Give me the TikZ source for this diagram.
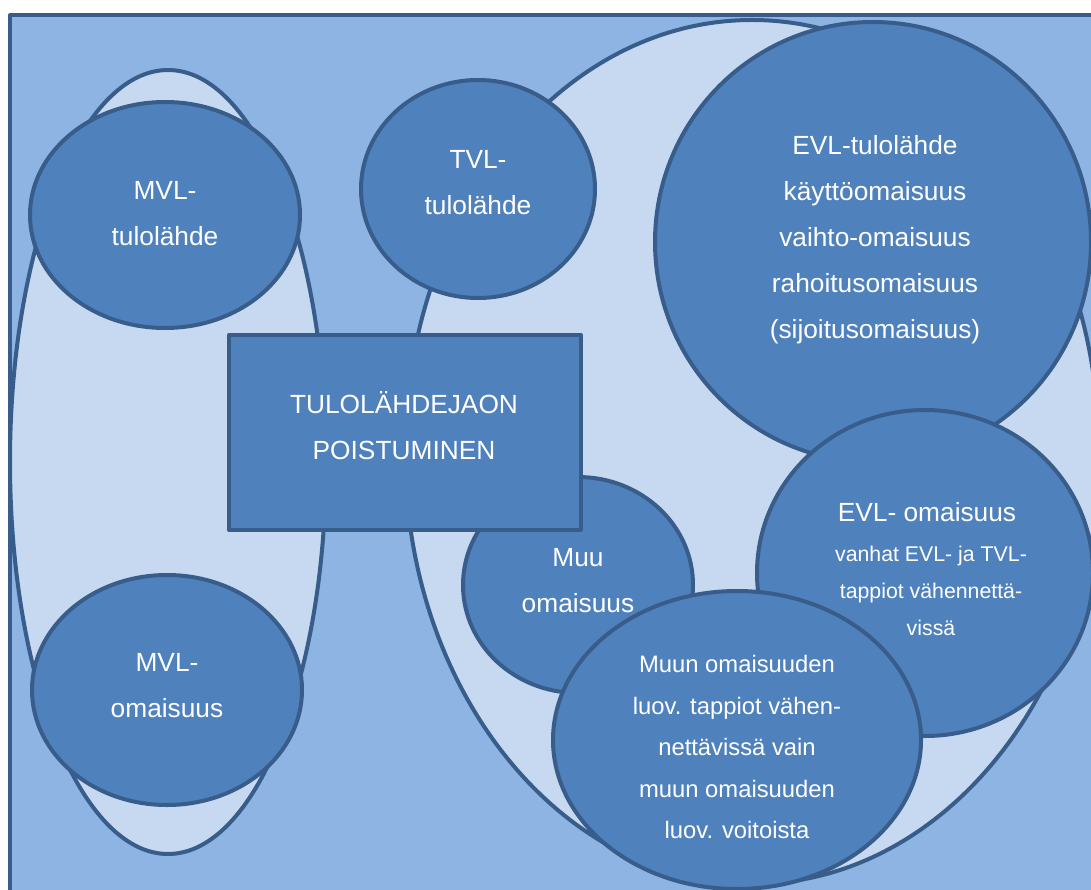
\documentclass[tikz,border=0pt]{standalone}
\usepackage{fontspec}
\setmainfont{Liberation Sans}
\usetikzlibrary{shapes.geometric}
\definecolor{bgblue}{HTML}{8EB4E3}
\definecolor{lightblue}{HTML}{C6D9F1}
\definecolor{midblue}{HTML}{4F81BD}
\definecolor{edgeblue}{HTML}{385D8A}
\begin{document}
\begin{tikzpicture}[x=1pt,y=-1pt,
  group/.style={ellipse, draw=edgeblue, fill=lightblue, line width=4pt, inner sep=0pt},
  bubble/.style={ellipse, draw=edgeblue, fill=midblue, line width=4pt, inner sep=0pt},
  box/.style={rectangle, draw=edgeblue, fill=midblue, line width=4pt, inner sep=0pt, line join=round},
  txt/.style={text=white, align=center, inner sep=0pt, font=\fontsize{26.3}{46}\selectfont},
  smalltxt/.style={text=white, align=center, inner sep=0pt, font=\fontsize{21.3}{37}\selectfont},
  midtxt/.style={text=white, align=center, inner sep=0pt, font=\fontsize{23.8}{41.5}\selectfont}]
\useasboundingbox (0,0) rectangle (1091,890);
\clip (0,0) rectangle (1091,890);
\draw[draw=edgeblue, fill=bgblue, line width=4pt, line join=round] (10,15) rectangle (1120,920);
% groups
\node[group, minimum width=316pt, minimum height=784pt] (leftgrp) at (168,462) {};
\node[group, minimum width=694pt, minimum height=864pt] (rightgrp) at (752,452) {};
% bubbles
\node[bubble, minimum width=270pt, minimum height=226pt] (mvlt) at (165,215) {};
\node[bubble, minimum width=270pt, minimum height=230pt] (mvlo) at (167,690) {};
\node[bubble, minimum width=234pt, minimum height=218pt] (tvl) at (478,189) {};
\node[bubble, minimum width=436pt, minimum height=440pt] (evlt) at (873,242) {};
\node[bubble, minimum width=336pt, minimum height=326pt] (evlo) at (925,573) {};
\node[bubble, minimum width=230pt, minimum height=216pt] (muu) at (578,585) {};
\node[bubble, minimum width=368pt, minimum height=298pt] (muun) at (737,740) {};
\node[box, minimum width=352pt, minimum height=195pt] (rect) at (405,432.5) {};
% texts
\node[txt] (tmvlt) at (165,214) {MVL-\\tulolähde};
\node[txt] (tmvlo) at (167,686) {MVL-\\omaisuus};
\node[txt] (ttvl) at (478,183) {TVL-\\tulolähde};
\node[txt] (tevlt) at (875,240) {EVL-tulolähde\\käyttöomaisuus\\vaihto-omaisuus\\rahoitusomaisuus\\(sijoitusomaisuus)};
\node[txt] (trect) at (404,426) {TULOLÄHDEJAON\\POISTUMINEN};
\node[txt] (tevlo) at (927,512) {EVL- omaisuus};
\node[smalltxt] (tevlos) at (931,591) {vanhat EVL- ja TVL-\\tappiot vähennettä-\\vissä};
\node[txt] (tmuu) at (578,581) {Muu\\omaisuus};
\node[midtxt] (tmuun) at (737,747) {Muun omaisuuden\\luov. tappiot vähen-\\nettävissä vain\\muun omaisuuden\\luov. voitoista};
\end{tikzpicture}
\end{document}
